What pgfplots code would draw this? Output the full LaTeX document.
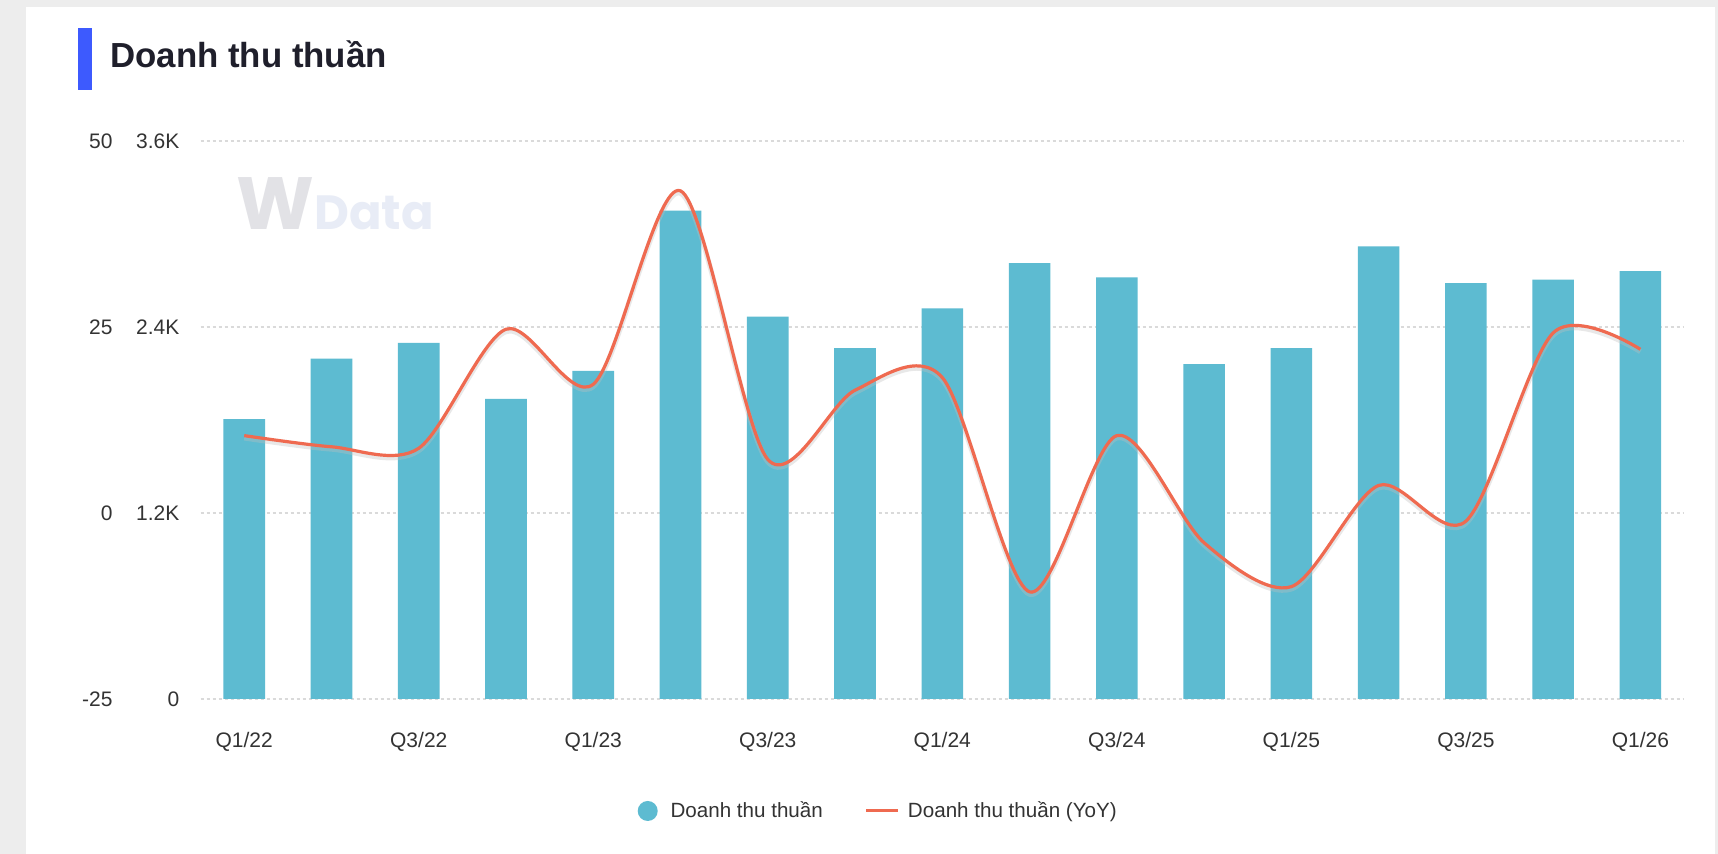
\documentclass[border=0pt]{standalone}
\usepackage{pgfplots}
\pgfplotsset{compat=1.18}
\usepackage{pgfplotstable}
\usepackage{fontspec}
\setmainfont{Liberation Sans}
\newfontfamily\wmfont{Poppins}

\definecolor{pagebg}{HTML}{EDEDED}
\definecolor{barcol}{HTML}{5DBBD1}
\definecolor{linecol}{HTML}{EF6A50}
\definecolor{accent}{HTML}{3D5AFE}
\definecolor{titlecol}{HTML}{1F1F2B}
\definecolor{tickcol}{HTML}{333333}
\definecolor{gridcol}{HTML}{DADADA}
\definecolor{wmgray}{HTML}{E2E2E6}
\definecolor{wmblue}{HTML}{E8ECF6}

% Net revenue by quarter and its year-on-year change (%)
\pgfplotstableread{
idx quarter rev yoy
0  Q1/22 1805  10.4
1  Q2/22 2196   8.9
2  Q3/22 2297   8.7
3  Q4/22 1936  24.7
4  Q1/23 2117  17.3
5  Q2/23 3151  43.3
6  Q3/23 2467   7.2
7  Q4/23 2263  16.5
8  Q1/24 2520  18.2
9  Q2/24 2812 -10.6
10 Q3/24 2720  10.4
11 Q4/24 2160  -4.0
12 Q1/25 2263  -9.9
13 Q2/25 2920   3.7
14 Q3/25 2683  -1.1
15 Q4/25 2705  24.2
16 Q1/26 2761  22.0
}\quarterly

\pgfplotsset{
  common/.style={
    at={(100.3pt,77.5pt)}, anchor=south west,
    scale only axis, width=741.7pt, height=279pt,
    xmin=-0.5, xmax=16.5, enlargelimits=false,
    axis line style={draw=none}, tick style={draw=none},
    tick label style={font=\fontsize{10.5}{12}\selectfont, text=tickcol, inner sep=0pt},
    yticklabel style={anchor=base east, yshift=-3.76pt},
    clip=false,
  },
}

\begin{document}
\begin{tikzpicture}
  % page and card
  \fill[pagebg] (0pt,0pt) rectangle (859pt,427pt);
  \fill[white] (13pt,0pt) rectangle (857.5pt,423.5pt);
  % title
  \fill[accent] (39pt,382pt) rectangle (46pt,412.75pt);
  \node[anchor=base west, inner sep=0, text=titlecol,
        font=\fontsize{17.4}{20}\selectfont\bfseries] at (55pt,393pt) {Doanh thu thuần};
  % watermark
  \node[anchor=base west, inner sep=0, font=\wmfont\bfseries]
    at (118pt,312pt) {\textcolor{wmgray}{\fontsize{37}{40}\selectfont W}\textcolor{wmblue}{\fontsize{24}{28}\selectfont Data}};

  % revenue bars (left inner scale)
  \begin{axis}[common,
      ymin=0, ymax=3600,
      ytick={0,1200,2400,3600}, yticklabels={0,1.2K,2.4K,3.6K},
      yticklabel style={xshift=-10.45pt},
      xtick={0,2,...,16},
      xticklabels={Q1/22,Q3/22,Q1/23,Q3/23,Q1/24,Q3/24,Q1/25,Q3/25,Q1/26},
      xticklabel style={anchor=base, yshift=-20.2pt},
      ymajorgrids, grid style={gridcol, line width=0.8pt, dash pattern=on 1.6pt off 1.4pt},
      ybar, bar width=20.8pt,
    ]
    \addplot[fill=barcol, draw=none] table[x=idx, y=rev]{\quarterly};
  \end{axis}

  % year-on-year line (left outer scale)
  \begin{axis}[common,
      ymin=-25, ymax=50,
      ytick={-25,0,25,50}, yticklabels={-25,0,25,50},
      yticklabel style={xshift=-43.8pt},
      xtick=\empty,
      legend columns=2,
      legend style={draw=none, fill=none, at={(0.4575,-0.2007)}, anchor=center,
        font=\fontsize{10.3}{12}\selectfont, text=tickcol,
        /tikz/every even column/.append style={column sep=19pt}},
    ]
    \addlegendimage{legend image code/.code={
        \fill[barcol, draw=none] (0pt,0pt) circle (5pt);
        \path[draw=none, fill=none] (5pt,0pt) -- (9.4pt,0pt);}}
    \addlegendentry{Doanh thu thuần}
    \addplot[black!25, opacity=0.35, line width=2.5pt, smooth, tension=0.5,
             yshift=-1.2pt, forget plot] table[x=idx, y=yoy]{\quarterly};
    \addplot[linecol, line width=1.6pt, smooth, tension=0.5,
             legend image code/.code={
               \draw[linecol, line width=1.5pt] (0pt,0pt) -- (16pt,0pt);
               \path[draw=none] (16pt,0pt) -- (18.8pt,0pt);}]
      table[x=idx, y=yoy]{\quarterly};
    \addlegendentry{Doanh thu thuần (YoY)}
  \end{axis}

  \pgfresetboundingbox
  \useasboundingbox (0pt,0pt) rectangle (859pt,427pt);
\end{tikzpicture}
\end{document}
